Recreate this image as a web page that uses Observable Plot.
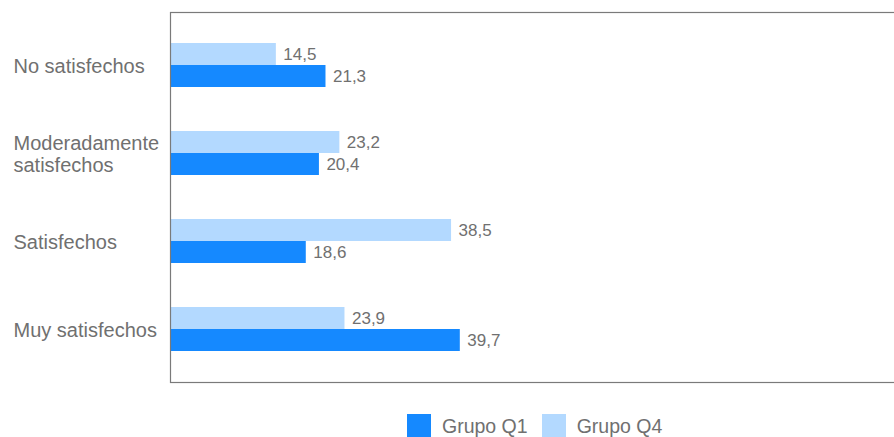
<!DOCTYPE html>
<html>
<head>
<meta charset="utf-8">
<script src="https://cdn.jsdelivr.net/npm/d3@7"></script>
<script src="https://cdn.jsdelivr.net/npm/@observablehq/plot@0.6"></script>
<style>
  html, body { margin: 0; padding: 0; background: #fff; }
  #wrap { width: 894px; overflow: hidden; font-family: "Liberation Sans", Arial, sans-serif; }
  #wrap svg { max-width: none !important; display: block; }
  #legend { display: flex; justify-content: flex-start; align-items: flex-start; height: 37px; padding-top: 14px; padding-left: 407px; box-sizing: border-box; }
  .item { display: flex; align-items: center; margin-right: 14px; color: #707070; font-size: 19.5px; line-height: 24px; }
  .sw { width: 24px; height: 24px; margin-right: 11px; }
</style>
</head>
<body>
<div id="wrap"></div>
<script>
const categories = ["No satisfechos", "Moderadamente\nsatisfechos", "Satisfechos", "Muy satisfechos"];
const seriesNames = ["Grupo Q1", "Grupo Q4"];
const q1Values = [21.3, 20.4, 18.6, 39.7];
const q4Values = [14.5, 23.2, 38.5, 23.9];
const seriesColors = ["#1589ff", "#b3d9ff"];

const q1 = categories.map((c, i) => ({category: c, value: q1Values[i]}));
const q4 = categories.map((c, i) => ({category: c, value: q4Values[i]}));
const fmt = v => v.toFixed(1).replace(".", ",");

const chart = Plot.plot({
  width: 900,
  height: 400,
  marginLeft: 170,
  marginRight: 0,
  marginTop: 12,
  marginBottom: 18,
  style: {fontFamily: "'Liberation Sans', Arial, sans-serif", background: "#fff", maxWidth: "none"},
  x: {domain: [0, 100], axis: null},
  y: {domain: categories, paddingInner: 0.5, paddingOuter: 0.345, label: null},
  marks: [
    Plot.barX(q4, {x: "value", y: "category", fill: seriesColors[1], insetBottom: 22}),
    Plot.barX(q1, {x: "value", y: "category", fill: seriesColors[0], insetTop: 22}),
    Plot.text(q4, {x: "value", y: "category", text: d => fmt(d.value), dx: 7, dy: -11, textAnchor: "start", fill: "#707070", fontSize: 17}),
    Plot.text(q1, {x: "value", y: "category", text: d => fmt(d.value), dx: 7, dy: 11, textAnchor: "start", fill: "#707070", fontSize: 17}),
    Plot.axisY({tickSize: 0, tickPadding: 0, textAnchor: "start", dx: -157, fontSize: 20, fill: "#707070", lineHeight: 1.1, label: null}),
    Plot.frame({stroke: "#7a7a7a", strokeWidth: 1.2})
  ]
});
const wrap = document.getElementById("wrap");
wrap.appendChild(chart);

const legend = document.createElement("div");
legend.id = "legend";
seriesNames.forEach((name, i) => {
  const item = document.createElement("div");
  item.className = "item";
  const sw = document.createElement("div");
  sw.className = "sw";
  sw.style.background = seriesColors[i];
  item.appendChild(sw);
  const t = document.createElement("span");
  t.textContent = name;
  item.appendChild(t);
  legend.appendChild(item);
});
wrap.appendChild(legend);
</script>
</body>
</html>
